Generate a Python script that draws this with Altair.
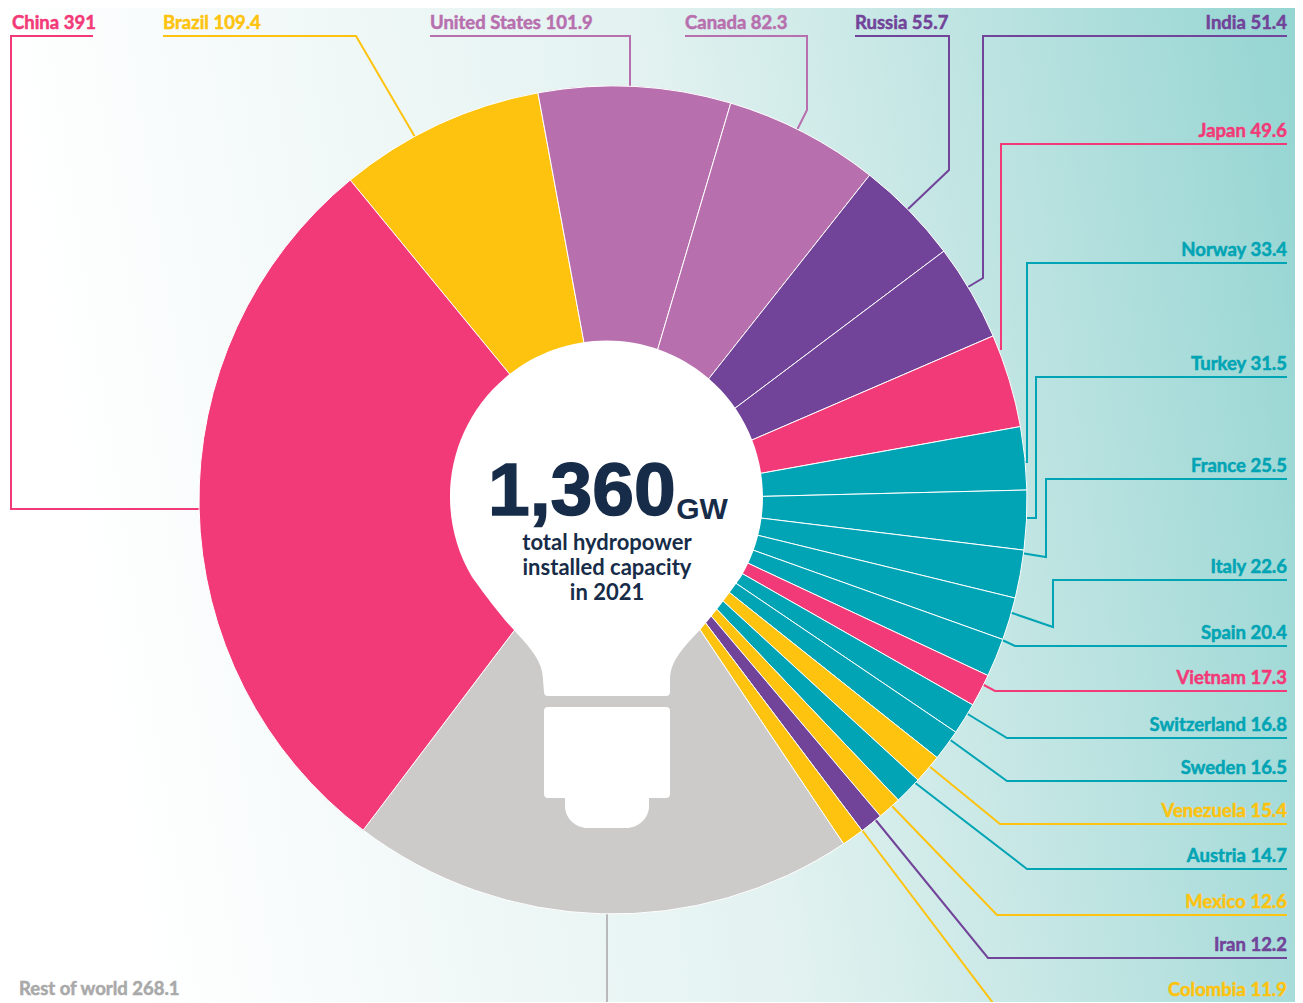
import math
import altair as alt
import pandas as pd

# ---- values -----
names = ["Brazil", "United States", "Canada", "Russia", "India", "Japan", "Norway", "Turkey ", "France",
         "Italy", "Spain", "Vietnam", "Switzerland", "Sweden", "Venezuela", "Austria", "Mexico", "Iran",
         "Colombia", "Rest of world", "China"]
values = ["109.4", "101.9", "82.3", "55.7", "51.4", "49.6", "33.4", "31.5", "25.5", "22.6", "20.4", "17.3",
          "16.8", "16.5", "15.4", "14.7", "12.6", "12.2", "11.9", "268.1", "391"]
PINK, YEL, MAU, PUR, TEAL, GREY = "#F23A78", "#FEC30F", "#B76FAE", "#714399", "#00A4B4", "#CCCBCA"
colors = [YEL, MAU, MAU, PUR, PUR, PINK, TEAL, TEAL, TEAL, TEAL, TEAL, PINK, TEAL, TEAL, YEL, TEAL, YEL, PUR,
          YEL, GREY, PINK]
total_label = "1,360"
unit_label = "GW"
caption = ["total hydropower", "installed capacity", "in 2021"]

# ---- layout (pixels on the page) -----
W, H = 1287, 994
CX, CY, R = 613, 500, 414
START = math.radians(-39.4)
NAVY = "#172C48"
leaders = {
    "China": [(93, 36), (11, 36), (11, 509), (200, 509)],
    "Brazil": [(163, 36), (356, 36), (415, 137)],
    "United States": [(430, 36), (630, 36), (630, 86)],
    "Canada": [(685, 36), (807, 36), (807, 110), (797, 130)],
    "Russia": [(855, 36), (949, 36), (949, 170), (907, 210)],
    "India": [(1287, 36), (983, 36), (983, 278), (968, 287)],
    "Japan": [(1287, 144), (1001, 144), (1001, 350)],
    "Norway": [(1287, 263), (1027, 263), (1027, 462), (1022, 462)],
    "Turkey ": [(1287, 377), (1036, 377), (1036, 518), (1025, 518)],
    "France": [(1287, 479), (1046, 479), (1046, 557), (1021, 553)],
    "Italy": [(1287, 580), (1053, 580), (1053, 627), (1009, 612)],
    "Spain": [(1287, 646), (1015, 646), (1000, 639)],
    "Vietnam": [(1287, 691), (995, 691), (982, 684)],
    "Switzerland": [(1287, 738), (1007, 738), (966, 713)],
    "Sweden": [(1287, 781), (1007, 781), (949, 739)],
    "Venezuela": [(1287, 824), (1000, 824), (929, 766)],
    "Austria": [(1287, 869), (1027, 869), (914, 782)],
    "Mexico": [(1287, 915), (997, 915), (891, 805)],
    "Iran": [(1287, 958), (988, 958), (874, 818)],
    "Colombia": [(1287, 1003), (993, 1003), (862, 830)],
    "Rest of world": [(607, 914), (607, 1003)],
}
label_anchor = {"China": 12, "Brazil": 163, "United States": 430, "Canada": 685, "Russia": 855}

bulb_path = (
    "M -134.5 80 A 156.5 156.5 0 1 1 134.5 80 C 120 100 105 120 93.5 133 C 75 152 63.5 165 63.5 183 "
    "L 63.5 195 Q 63.5 199 59.5 199 L -58.5 199 Q -62.5 199 -62.5 195 L -63.5 183 "
    "C -63.5 165 -75 152 -93.5 132 C -105 120 -120 100 -134.5 80 Z "
    "M -58.5 210 L 59.5 210 Q 63.5 210 63.5 214 L 63.5 297 Q 63.5 301 59.5 301 L 42.5 301 L 42.5 309 "
    "C 42.5 322 31 331 20 331 L -19 331 C -30 331 -41.5 322 -41.5 309 L -41.5 301 L -58.5 301 "
    "Q -62.5 301 -62.5 297 L -62.5 214 Q -62.5 210 -58.5 210 Z"
)

xs = alt.Scale(domain=[8, 8 + W], range=[0, W], zero=False, nice=False)
ys = alt.Scale(domain=[8, 8 + H], range=[0, H], zero=False, nice=False)

# ---- tables -----
nums = [float(v) for v in values]
slices = pd.DataFrame({"name": names, "value": nums, "color": colors})
slices["a1"] = slices["value"].cumsum()
slices["a0"] = slices["a1"] - slices["value"]
total = float(slices["value"].sum())

line_rows = []
label_rows = []
for n, v, c in zip(names, values, colors):
    pts = leaders[n]
    lc = "#B9B9B9" if n == "Rest of world" else c
    for i, (px, py) in enumerate(pts):
        line_rows.append({"name": n, "i": i, "px": px, "py": py, "color": lc})
    if n == "Rest of world":
        label_rows.append({"text": f"{n} {v}", "px": 19, "py": 995, "color": "#A9A9A9", "align": "left"})
    elif n in label_anchor:
        label_rows.append({"text": f"{n} {v}", "px": label_anchor[n], "py": pts[0][1] - 7, "color": c, "align": "left"})
    else:
        label_rows.append({"text": f"{n} {v}", "px": 1287, "py": pts[0][1] - 7, "color": c, "align": "right"})
lines = pd.DataFrame(line_rows)
labels = pd.DataFrame(label_rows)

# ---- layers -----
grad = alt.LinearGradient(
    gradient="linear", x1=0, y1=0.12, x2=1, y2=0,
    stops=[alt.GradientStop(offset=0, color="#FFFFFF"),
           alt.GradientStop(offset=0.5, color="#E2F2F0"),
           alt.GradientStop(offset=0.76, color="#BCE3E1"),
           alt.GradientStop(offset=1, color="#94D5D2")],
)
background = alt.Chart(pd.DataFrame({"k": [0]})).mark_rect(color=grad).encode(
    x=alt.value(0), x2=alt.value(W), y=alt.value(0), y2=alt.value(H))

leader_layer = alt.Chart(lines).mark_line(strokeWidth=2, strokeJoin="miter", clip=True).encode(
    x=alt.X("px:Q", scale=xs, axis=None),
    y=alt.Y("py:Q", scale=ys, axis=None),
    detail="name:N",
    order="i:Q",
    color=alt.Color("color:N", scale=None),
)

pie = alt.Chart(slices).mark_arc(radius=R, stroke="white", strokeWidth=1).encode(
    x=alt.X(datum=CX, scale=xs, axis=None),
    y=alt.Y(datum=CY, scale=ys, axis=None),
    theta=alt.Theta("a0:Q", scale=alt.Scale(domain=[0, total], range=[START, START + 2 * math.pi])),
    theta2=alt.Theta2("a1:Q"),
    color=alt.Color("color:N", scale=None),
)

bulb = alt.Chart(pd.DataFrame({"k": [0]})).mark_point(
    shape=bulb_path, size=4, filled=True, fill="white", opacity=1
).encode(x=alt.X(datum=606.5, scale=xs, axis=None), y=alt.Y(datum=497, scale=ys, axis=None))


def label_marks(al):
    return alt.Chart(labels).transform_filter(f"datum.align == '{al}'").mark_text(
        font="Lato", fontWeight="bold", fontSize=18.5, baseline="alphabetic", align=al, strokeWidth=0.5
    ).encode(
        x=alt.X("px:Q", scale=xs, axis=None),
        y=alt.Y("py:Q", scale=ys, axis=None),
        text="text:N",
        color=alt.Color("color:N", scale=None),
        stroke=alt.Stroke("color:N", scale=None),
    )


def center_text(text, px, py, size, font, align="center", stroke=0):
    return alt.Chart(pd.DataFrame({"text": [text]})).mark_text(
        font=font, fontWeight="bold", fontSize=size, baseline="alphabetic", align=align, color=NAVY,
        stroke=NAVY, strokeWidth=stroke
    ).encode(x=alt.X(datum=px, scale=xs, axis=None), y=alt.Y(datum=py, scale=ys, axis=None), text="text:N")


big = center_text(total_label, 488, 515, 75, "Liberation Sans", "left", 1.5)
gw = center_text(unit_label, 702, 519, 30, "Liberation Sans")
cap = [center_text(t, 607, y, 22, "Lato") for t, y in zip(caption, [550, 575, 600])]

chart = alt.layer(background, leader_layer, pie, bulb, label_marks("left"), label_marks("right"), big, gw, *cap).properties(
    width=W, height=H, padding=0, autosize=alt.AutoSizeParams(type="none")
).configure_view(stroke=None)

chart.save("out.html", embed_options={"renderer": "svg", "actions": False})
